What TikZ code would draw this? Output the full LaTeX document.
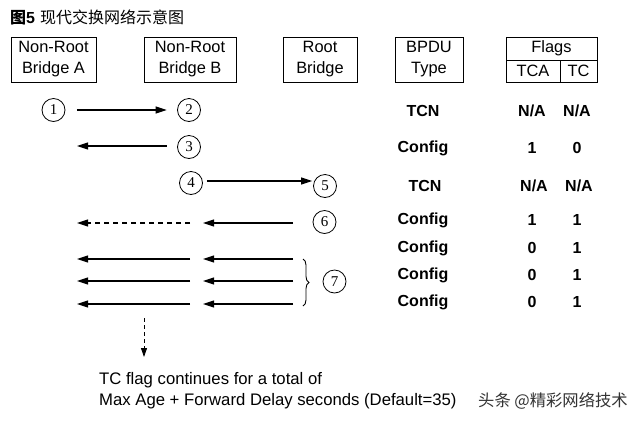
\documentclass[tikz,border=0pt]{standalone}
\usepackage{fontspec}
\setmainfont{Liberation Sans}
\newfontfamily\cjk{Noto Sans CJK SC}
\newfontfamily\serifd{Liberation Serif}
\usetikzlibrary{arrows.meta,decorations.pathreplacing}
\begin{document}
\begin{tikzpicture}[x=1pt,y=-1pt,
  hdr/.style={draw,line width=0.9pt,minimum height=45pt,inner sep=0pt,align=center,font=\fontsize{16.4}{21}\selectfont},
  cell/.style={draw,line width=0.9pt,inner sep=0pt,font=\fontsize{16.4}{18}\selectfont},
  num/.style={draw,circle,line width=0.8pt,minimum size=23pt,inner sep=0pt,font=\serifd\fontsize{15}{15}\selectfont},
  val/.style={font=\bfseries\fontsize{16}{18}\selectfont},
  msg/.style={line width=1.1pt,-{Triangle[length=11pt,width=7pt]}},
  dmsg/.style={msg,dash pattern=on 5pt off 4pt},
  txt/.style={anchor=west,inner sep=0pt,font=\fontsize{16.7}{18}\selectfont}]
\useasboundingbox (0,0) rectangle (640,424);
\fill[white] (0,0) rectangle (640,424);
% title
\node[anchor=west,inner sep=0pt] (title) at (10,17) {{\cjk\bfseries\fontsize{16}{18}\selectfont 图\fontspec{Liberation Sans}\bfseries 5}\hspace{5pt}{\cjk\fontsize{16}{18}\selectfont 现代交换网络示意图}};
% header boxes
\node[hdr,minimum width=85pt] (ha) at (53.5,59.5) {Non-Root\\Bridge A};
\node[hdr,minimum width=92pt] (hb) at (190,59.5) {Non-Root\\Bridge B};
\node[hdr,minimum width=74pt] (hr) at (320,59.5) {Root\\Bridge};
\node[hdr,minimum width=68pt] (ht) at (429,59.5) {BPDU\\Type};
\node[cell,minimum width=91pt,minimum height=23pt] (hf) at (551.5,48.5) {Flags};
\node[cell,minimum width=54pt,minimum height=22pt] (hca) at (533,71) {TCA};
\node[cell,minimum width=37pt,minimum height=22pt] (hc) at (578.5,71) {TC};
% step numbers
\node[num] (n1) at (53.5,110) {1};
\node[num] (n2) at (189,110) {2};
\node[num] (n3) at (189,147) {3};
\node[num] (n4) at (191,183) {4};
\node[num] (n5) at (325,186) {5};
\node[num] (n6) at (324.5,222) {6};
\node[num] (n7) at (334.5,281.5) {7};
% free ends
\coordinate (l3) at (77,146);
\coordinate (r6) at (293,223);
\coordinate (m6) at (203,223);
\coordinate (k6) at (190,223);
\coordinate (l6) at (77,223);
\foreach \i/\y in {a/259,b/281,c/304}{
  \coordinate (r\i) at (293,\y);
  \coordinate (m\i) at (203,\y);
  \coordinate (k\i) at (190,\y);
  \coordinate (l\i) at (77,\y);
}
\coordinate (bt) at (303,259);
\coordinate (bb) at (303,306);
\coordinate (dt) at (144,318);
\coordinate (db) at (144,357);
% arrows
\draw[msg,shorten <=11.5pt,shorten >=10.5pt] (n1) -- (n2);
\draw[msg,shorten <=10.5pt] (n3.west |- l3) -- (l3);
\draw[msg,shorten <=4pt,shorten >=1pt] (n4.east |- 0,181) -- (n5.west |- 0,181);
\draw[msg] (r6) -- (m6);
\draw[dmsg] (k6) -- (l6);
\foreach \i in {a,b,c}{
  \draw[msg] (r\i) -- (m\i);
  \draw[msg] (k\i) -- (l\i);
}
\draw[line width=0.9pt,decorate,decoration={brace,amplitude=6pt}] (bt) -- (bb);
\draw[line width=0.9pt,dash pattern=on 4pt off 3pt,-{Triangle[length=9pt,width=6pt]}] (dt) -- (db);
% table values
\node[val] (t1) at (423,111) {TCN};
\node[val] (a1) at (532,111) {N/A};
\node[val] (c1) at (577,111) {N/A};
\node[val] (t2) at (423,148) {Config};
\node[val] (a2) at (532,148) {1};
\node[val] (c2) at (577,148) {0};
\node[val] (t3) at (425,186) {TCN};
\node[val] (a3) at (534,186) {N/A};
\node[val] (c3) at (579,186) {N/A};
\node[val] (t4) at (423,220) {Config};
\node[val] (a4) at (532,220) {1};
\node[val] (c4) at (577,220) {1};
\node[val] (t5) at (423,248) {Config};
\node[val] (a5) at (532,248) {0};
\node[val] (c5) at (577,248) {1};
\node[val] (t6) at (423,275) {Config};
\node[val] (a6) at (532,275) {0};
\node[val] (c6) at (577,275) {1};
\node[val] (t7) at (423,302) {Config};
\node[val] (a7) at (532,302) {0};
\node[val] (c7) at (577,302) {1};
% bottom text
\node[txt] (b1) at (99,380) {TC flag continues for a total of};
\node[txt] (b2) at (99,401) {Max Age + Forward Delay seconds (Default=35)};
\node[anchor=west,inner sep=0pt,text=black!80] (wm) at (478,401) {\cjk\fontsize{16.3}{18}\selectfont 头条 @精彩网络技术};
\end{tikzpicture}
\end{document}
